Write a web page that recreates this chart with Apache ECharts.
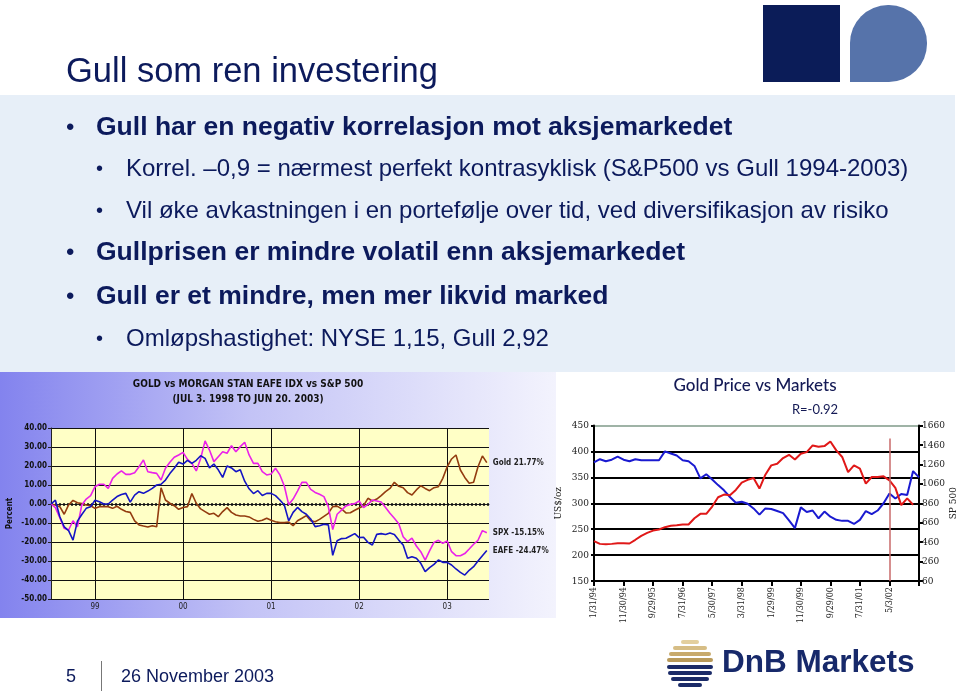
<!DOCTYPE html>
<html><head><meta charset="utf-8">
<script src="https://cdn.jsdelivr.net/npm/echarts@6/dist/echarts.min.js"></script>
<style>html,body{margin:0;padding:0;background:#fff}#c{width:960px;height:692px}</style>
</head><body><div id="c"></div>
<script>
// ---------- Left chart: GOLD vs EAFE vs S&P 500 (percent change, Jul 3 1998 - Jun 20 2003) ----------
// samples roughly every 2.6 weeks; x = sample index
const leftYearIdx = [10, 30, 50, 70, 90];
const leftYearLabels = ['99', '00', '01', '02', '03'];
const leftYTicks = [-50, -40, -30, -20, -10, 0, 10, 20, 30, 40];
const leftNames = ['Gold', 'SPX', 'EAFE'];
const leftGold = [0, -0.5, -1.4, -5.4, -0.5, 1.9, 0.7, 0.2, -0.5, -0.9,
  -2.3, -1.4, -1.4, -1.4, -2.3, -1.2, -2.8, -3.9, -4.4, -8.9,
  -11, -11.6, -12.1, -11.4, -12, 8.5, 2.1, 0.4, -0.9, -2.8,
  -1.8, -1.4, 5.5, 0.4, -2.6, -4, -5.4, -4.9, -6.7, -4,
  -1.9, -4.4, -5.8, -6.3, -6.3, -6.8, -8.1, -9.1, -8.6, -7.5,
  -8.6, -9.3, -9.8, -9.8, -9.5, -11.4, -8.8, -7.5, -6.1, -8.8,
  -9.3, -8.1, -6.5, -4.9, -1.4, -1.1, -2.6, -4.7, -4.6, -3.3,
  -2.1, -0.9, 3, 1.6, 2.6, 4.4, 6.5, 8.2, 11.4, 9.3,
  8.6, 6, 4.7, 7.4, 9.6, 8.2, 7, 8.6, 9.1, 13.5,
  19.6, 23.7, 25.8, 17.9, 14, 10.9, 11.4, 19.6, 25.3, 21.77];
const leftSPX = [0, -1.9, -7.2, -12.8, -13.7, -8.8, -12, -0.5, 2.6, 4.4,
  9.1, 10.4, 10.4, 8.2, 13.5, 15.8, 17.4, 15.6, 15.6, 16.5,
  19.6, 23.2, 17, 16.5, 16.1, 12.6, 18.8, 22, 24.6, 25.8,
  27.2, 23.5, 21.4, 17.4, 24, 33.2, 28.4, 22.3, 24.9, 27.5,
  26.7, 30.7, 27.5, 30.2, 32.5, 25.8, 21.4, 21.4, 17, 15.3,
  15.8, 18.8, 15.3, 9.5, -0.3, 2.6, 6.8, 11.4, 11.4, 7.7,
  6.1, 5.1, 3.9, -1.4, -13.5, -5.4, -3.2, -1, -0.2, 0.2,
  1.6, -1.9, -0.2, 2.1, 1.6, 1, -1.8, -4.9, -7.5, -10.4,
  -17.2, -19.8, -18, -22.1, -25.1, -29.5, -24.7, -20.2, -19.1, -20.7,
  -19.5, -25.1, -27.2, -27.2, -26.1, -23.7, -21.2, -19.1, -14, -15.15];
const leftEAFE = [0, 2, -6.7, -12, -14, -19, -9, -5.5, -2.3, -1.4,
  2, 1.2, 0, 0, 2, 3.9, 5, 5.6, 1, 4.7,
  6.5, 5.6, 6.8, 8.2, 10, 10.4, 12.6, 16, 18.8, 22,
  21, 23, 21.4, 23, 25.4, 24, 19, 21, 18, 14,
  20, 19, 17, 18, 12, 8, 5.5, 7, 4.5, 5.6,
  5.6, 4.4, 2.1, -0.5, -8.9, -4.4, -1.8, -4, -5.4, -7.9,
  -11.9, -11.4, -10.7, -11, -27, -19.3, -18.2, -18, -16.8, -15.6,
  -17.7, -17.5, -20.2, -21.6, -16, -15.6, -16.1, -15.3, -16, -19,
  -21.6, -28.6, -27.7, -28.6, -31.2, -35.6, -33.5, -31.8, -29.5, -30.7,
  -30.7, -32.1, -34.2, -36, -37.4, -34.9, -33, -30, -27.2, -24.47];

// ---------- Right chart: Gold Price vs Markets (month index from Jan 1994, every 2 months) ----------
const rightTickLabels = ['1/31/94', '11/30/94', '9/29/95', '7/31/96', '5/30/97', '3/31/98',
  '1/29/99', '11/30/99', '9/29/00', '7/31/01', '5/3/02', ''];
const rightSPTicks = [60, 260, 460, 660, 860, 1060, 1260, 1460, 1660];
const rightGold = [379, 385, 381, 384, 390, 384, 381, 385, 383, 383,
  383, 383, 400, 396, 392, 383, 381, 372, 348, 356,
  346, 335, 325, 312, 301, 303, 299, 290, 278, 290,
  289, 285, 281, 267, 252, 292, 283, 286, 271, 284,
  274, 268, 266, 266, 260, 268, 285, 279, 286, 300,
  319, 309, 318, 316, 362, 350];
const rightSP = [470, 442, 439, 442, 449, 449, 446, 484, 525, 555,
  579, 590, 614, 628, 634, 641, 641, 706, 751, 751,
  826, 922, 949, 943, 997, 1073, 1100, 1120, 1011, 1154,
  1250, 1267, 1325, 1359, 1311, 1370, 1386, 1455, 1441, 1448,
  1496, 1404, 1336, 1181, 1250, 1216, 1062, 1130, 1130, 1137,
  1096, 1018, 840, 910, 845];
const rightMarkerIdx = 100; // 5/3/02

const NAVY = '#0c1a5c';
const SANS = '"Liberation Sans", Arial, sans-serif';
const NARROW = '"Liberation Sans Narrow", "DejaVu Sans Condensed", "Liberation Sans", sans-serif';
const COND = '"DejaVu Serif Condensed", "Liberation Serif", serif';

const chart = echarts.init(document.getElementById('c'), null, {renderer: 'canvas'});

function txt(text, x, y, font, fill, opts) {
  return Object.assign({type: 'text', z: 100, silent: true,
    style: Object.assign({text: text, x: x, y: y, font: font, fill: fill, align: 'left', verticalAlign: 'middle'}, opts || {})});
}

const graphics = [
  // backgrounds
  {type: 'rect', z: -100, silent: true, shape: {x: 0, y: 95, width: 955, height: 277}, style: {fill: '#e7eff8'}},
  {type: 'rect', z: -100, silent: true, shape: {x: 0, y: 372, width: 556, height: 246},
    style: {fill: new echarts.graphic.LinearGradient(0, 0, 1, 0, [
      {offset: 0, color: '#8383ee'}, {offset: 0.45, color: '#c3c3f6'}, {offset: 1, color: '#f3f3fd'}])}},
  {type: 'rect', z: -100, silent: true, shape: {x: 558, y: 372, width: 397, height: 255}, style: {fill: '#ffffff'}},
  // top-right logo
  {type: 'rect', z: 50, silent: true, shape: {x: 763, y: 5, width: 77, height: 77}, style: {fill: '#0b1c58'}},
  {type: 'rect', z: 50, silent: true, shape: {x: 850, y: 5, width: 77, height: 77, r: [38, 38, 38, 0]}, style: {fill: '#5673aa'}},
  // title and bullets
  txt('Gull som ren investering', 66, 72, '34.5px ' + SANS, NAVY),
  txt('•', 66, 128, '24px ' + SANS, NAVY),
  txt('Gull har en negativ korrelasjon mot aksjemarkedet', 96, 128, 'bold 26.5px ' + SANS, NAVY),
  txt('•', 96, 169, '20px ' + SANS, NAVY),
  txt('Korrel. –0,9 = nærmest perfekt kontrasyklisk (S&P500 vs Gull 1994-2003)', 126, 169, '24px ' + SANS, NAVY),
  txt('•', 96, 211, '20px ' + SANS, NAVY),
  txt('Vil øke avkastningen i en portefølje over tid, ved diversifikasjon av risiko', 126, 211, '24px ' + SANS, NAVY),
  txt('•', 66, 253, '24px ' + SANS, NAVY),
  txt('Gullprisen er mindre volatil enn aksjemarkedet', 96, 253, 'bold 26.5px ' + SANS, NAVY),
  txt('•', 66, 297, '24px ' + SANS, NAVY),
  txt('Gull er et mindre, men mer likvid marked', 96, 297, 'bold 26.5px ' + SANS, NAVY),
  txt('•', 96, 339, '20px ' + SANS, NAVY),
  txt('Omløpshastighet: NYSE 1,15, Gull 2,92', 126, 339, '24px ' + SANS, NAVY),
  // left chart titles
  txt('GOLD vs MORGAN STAN EAFE IDX vs S&P 500', 248, 384, 'bold 10px ' + NARROW, '#111', {align: 'center'}),
  txt('(JUL 3. 1998 TO JUN 20. 2003)', 248, 399, 'bold 10px ' + NARROW, '#111', {align: 'center'}),
  // right chart titles
  txt('Gold Price vs Markets', 755, 386, '500 17px Lato, "Open Sans", sans-serif', '#141a55', {align: 'center'}),
  txt('R=-0.92', 815, 410, '13px Lato, "Open Sans", sans-serif', '#141a55', {align: 'center'}),
  // footer
  txt('5', 66, 677, '18px ' + SANS, NAVY),
  {type: 'line', z: 50, silent: true, shape: {x1: 101.5, y1: 661, x2: 101.5, y2: 691}, style: {stroke: '#777', lineWidth: 1}},
  txt('26 November 2003', 121, 677, '18px ' + SANS, NAVY),
  txt('DnB Markets', 722, 663, '600 31.5px ' + SANS, '#17296a')
];
// DnB stripe logo
const stripes = [[640, 18, '#e3cf9e'], [646, 34, '#d6bd85'], [652, 42, '#c8aa6c'], [658, 46, '#b99a5a'],
  [665, 46, '#1b2b68'], [671, 44, '#1b2b68'], [677, 38, '#1b2b68'], [683, 24, '#1b2b68']];
stripes.forEach(s => graphics.push({type: 'rect', z: 50, silent: true,
  shape: {x: 713 - s[1] - (46 - s[1]) / 2, y: s[0], width: s[1], height: 4, r: 2}, style: {fill: s[2]}}));

const leftMarkLines = [{yAxis: 0, lineStyle: {type: [2, 2], width: 2.5, color: '#111'}}]
  .concat(leftYearIdx.map(v => ({xAxis: v, lineStyle: {type: 'solid', width: 1, color: '#111'}})));

function leftSeries(name, data, color, withMarks) {
  const s = {
    type: 'line', name: name, xAxisIndex: 0, yAxisIndex: 0, showSymbol: false, symbol: 'none',
    data: data.map((v, i) => [i, v]), lineStyle: {color: color, width: 1.6}, itemStyle: {color: color},
    z: 3, silent: true,
    endLabel: {show: true, distance: 6, fontSize: 8, fontWeight: 'bold', fontFamily: NARROW, color: '#222',
      formatter: () => name + ' ' + data[data.length - 1].toFixed(2) + '%'}
  };
  if (withMarks) s.markLine = {silent: true, symbol: 'none', label: {show: false}, data: leftMarkLines, z: 2};
  return s;
}

const option = {
  animation: false,
  grid: [
    {left: 51, top: 428, width: 438, height: 171, show: true, backgroundColor: '#ffffc6', borderWidth: 0},
    {left: 594, top: 425.5, width: 325, height: 155.5, show: false}
  ],
  xAxis: [
    {type: 'value', gridIndex: 0, min: 0, max: 99.5,
      axisLine: {lineStyle: {color: '#222', width: 1}},
      axisTick: {customValues: leftYearIdx, length: 4, lineStyle: {color: '#222'}},
      axisLabel: {customValues: leftYearIdx, formatter: v => leftYearLabels[leftYearIdx.indexOf(v)], fontSize: 8, color: '#222', margin: 4, fontFamily: NARROW},
      splitLine: {show: false}},
    {type: 'value', gridIndex: 1, min: 0, max: 110, interval: 10,
      axisLine: {lineStyle: {color: '#000', width: 2}},
      axisTick: {length: 5, lineStyle: {color: '#000', width: 2}},
      axisLabel: {rotate: 90, formatter: v => rightTickLabels[Math.round(v / 10)] || '', fontSize: 9, color: '#222', margin: 6, fontFamily: COND},
      splitLine: {show: false}}
  ],
  yAxis: [
    {type: 'value', gridIndex: 0, min: -50, max: 40, interval: 10,
      name: 'Percent', nameLocation: 'middle', nameGap: 37, nameRotate: 90,
      nameTextStyle: {fontSize: 8, fontWeight: 'bold', color: '#111', fontFamily: NARROW},
      axisLine: {show: true, lineStyle: {color: '#222'}},
      axisTick: {show: true, length: 3, lineStyle: {color: '#222'}},
      axisLabel: {formatter: v => v.toFixed(2), fontSize: 8, fontWeight: 'bold', color: '#111', margin: 4, fontFamily: NARROW},
      splitLine: {show: true, lineStyle: {color: '#111', width: 1}}},
    {type: 'value', gridIndex: 1, position: 'left', min: 150, max: 450, interval: 50,
      name: 'US$/oz', nameLocation: 'middle', nameGap: 31, nameRotate: 90,
      nameTextStyle: {fontSize: 10, color: '#222', fontFamily: COND},
      axisLine: {show: true, lineStyle: {color: '#000', width: 2}},
      axisTick: {show: true, length: 3, lineStyle: {color: '#000', width: 2}},
      axisLabel: {fontSize: 10, color: '#222', margin: 5, fontFamily: COND, formatter: v => String(v)},
      splitLine: {show: true, lineStyle: {color: ['#000', '#000', '#000', '#000', '#000', '#000', '#9fb3a6'], width: 2}}},
    {type: 'value', gridIndex: 1, position: 'right', min: 60, max: 1660,
      name: 'SP 500', nameLocation: 'middle', nameGap: 27, nameRotate: 90,
      nameTextStyle: {fontSize: 10, color: '#222', fontFamily: COND},
      axisLine: {show: true, lineStyle: {color: '#000', width: 2}},
      axisTick: {show: true, customValues: rightSPTicks, length: 4, lineStyle: {color: '#000', width: 2}},
      axisLabel: {customValues: rightSPTicks, fontSize: 10, color: '#222', margin: 3, fontFamily: COND, formatter: v => String(v)},
      splitLine: {show: false}}
  ],
  series: [
    leftSeries('Gold', leftGold, '#933c10', true),
    leftSeries('SPX', leftSPX, '#ea22ea', false),
    leftSeries('EAFE', leftEAFE, '#1414c4', false),
    {type: 'line', name: 'Gold price', xAxisIndex: 1, yAxisIndex: 1, showSymbol: false, symbol: 'none', silent: true,
      data: rightGold.map((v, i) => [i * 2, v]), lineStyle: {color: '#1a1ad0', width: 2}, z: 3},
    {type: 'line', name: 'S&P 500', xAxisIndex: 1, yAxisIndex: 2, showSymbol: false, symbol: 'none', silent: true,
      data: rightSP.map((v, i) => [i * 2, v]), lineStyle: {color: '#e01818', width: 2}, z: 3,
      markLine: {silent: true, symbol: 'none', label: {show: false},
        lineStyle: {color: '#c86a6a', width: 1.5, type: 'solid'},
        data: [[{coord: [rightMarkerIdx, 60]}, {coord: [rightMarkerIdx, 1525]}]]}}
  ],
  graphic: {elements: graphics}
};
chart.setOption(option);
</script>
</body></html>
